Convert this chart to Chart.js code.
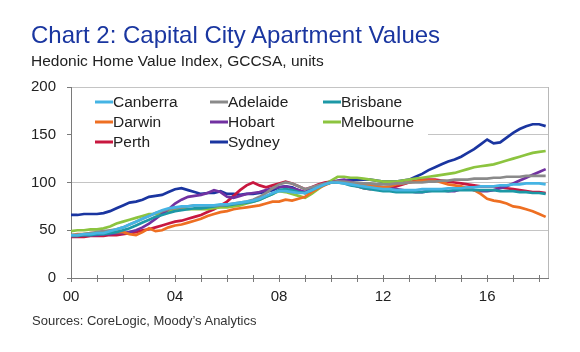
<!DOCTYPE html>
<html>
<head>
<meta charset="utf-8">
<script src="https://cdn.jsdelivr.net/npm/chart.js@4.4.1/dist/chart.umd.min.js"></script>
<style>
  html, body { margin: 0; padding: 0; background: #ffffff; }
  body { width: 580px; height: 352px; position: relative; overflow: hidden; font-family: "Liberation Sans", Arial, sans-serif; }
  #c { position: absolute; left: 0; top: 0; }
  .txt { position: absolute; white-space: nowrap; }
  #title { left: 31px; top: 22.7px; font-size: 24px; line-height: 24px; color: #1A36A0; }
  #subtitle { left: 31px; top: 53px; font-size: 15.5px; line-height: 15.5px; color: #222222; }
  #source { left: 32px; top: 314px; font-size: 13px; line-height: 13px; color: #333333; }
</style>
</head>
<body>
<canvas id="c" width="580" height="352"></canvas>
<div id="title" class="txt">Chart 2: Capital City Apartment Values</div>
<div id="subtitle" class="txt">Hedonic Home Value Index, GCCSA, units</div>
<div id="source" class="txt">Sources: CoreLogic, Moody’s Analytics</div>
<script>
// Quarterly observations, 2000 Q1 .. 2018 Q2
const startYear = 2000;
const yearTicks = [2000,2001,2002,2003,2004,2005,2006,2007,2008,2009,2010,2011,2012,2013,2014,2015,2016,2017,2018];
const yTicks = [0, 50, 100, 150, 200];

const canberra = [45,45,46,46, 47,47,49,51, 53,56,59,62, 65,68,71,73, 74,75,75,76, 76,76,76,77, 77,78,79,80, 81,83,86,89, 91,91,90,89, 89,92,95,98, 100,100,99,98, 97,96,95,94, 93,93,92,92, 92,92,93,93, 93,93,94,94, 94,95,95,96, 96,96,97,97, 98,98,99,99, 99,98];
const adelaide = [45,45,46,47, 48,49,50,51, 53,56,59,62, 65,68,70,72, 73,74,75,76, 76,76,76,76, 77,78,79,80, 82,85,89,94, 98,100,99,96, 93,95,97,99, 100,101,101,100, 100,99,99,98, 98,98,99,99, 100,100,100,101, 101,102,102,103, 103,103,104,104, 104,105,105,106, 106,106,107,107, 107,107];
const brisbane = [44,44,45,45, 46,46,47,48, 50,52,55,58, 61,64,66,68, 70,71,72,73, 73,74,75,76, 76,77,78,79, 80,82,85,88, 92,93,92,90, 89,92,95,98, 100,100,99,97, 96,94,93,92, 91,91,90,90, 90,90,90,91, 91,91,91,92, 92,92,92,92, 92,92,91,91, 91,90,90,89, 89,88];
const darwin = [45,46,46,47, 47,48,48,48, 48,46,45,48, 52,49,50,53, 55,56,58,60, 62,65,67,69, 70,72,73,74, 75,76,78,80, 80,82,81,83, 85,90,94,97, 100,101,100,99, 99,98,97,96, 95,96,98,99, 100,101,102,102, 102,100,98,97, 96,94,92,88, 83,81,80,78, 75,74,72,70, 67,64];
const hobart = [44,44,45,45, 45,46,46,47, 47,48,50,53, 57,62,67,72, 78,82,85,86, 87,89,92,90, 85,84,86,88, 89,90,92,94, 95,96,94,92, 90,93,96,99, 100,102,103,101, 99,98,97,96, 95,94,93,92, 91,90,90,91, 92,92,91,91, 93,94,92,91, 91,92,94,96, 99,102,105,108, 111,114];
const melbourne = [49,50,50,51, 51,52,54,57, 59,61,63,65, 67,67,68,70, 72,73,72,72, 72,72,73,74, 74,75,76,78, 80,82,85,88, 91,90,88,86, 84,88,93,98, 102,106,106,105, 105,104,103,102, 101,101,101,102, 103,104,105,106, 107,108,109,110, 112,114,116,117, 118,119,121,123, 125,127,129,131, 132,133];
const perth = [43,43,43,44, 44,44,45,45, 46,47,48,50, 51,53,55,57, 59,60,62,64, 66,69,72,76, 80,86,92,97, 100,97,95,97, 99,101,99,96, 93,95,98,100, 101,101,100,98, 96,94,93,94, 95,95,96,98, 100,102,103,103, 103,102,101,100, 99,98,97,96, 96,96,95,94, 93,92,91,90, 90,89];
const sydney = [66,66,67,67, 67,68,70,73, 76,79,80,82, 85,86,87,90, 93,94,92,90, 88,89,89,91, 88,88,87,88, 88,89,90,92, 95,96,95,92, 89,92,95,98, 100,101,102,103, 103,103,103,102, 101,101,101,102, 103,106,109,113, 116,119,122,124, 127,131,135,140, 145,141,142,147, 152,156,159,161, 161,159];

const seriesNames = ['Canberra','Adelaide','Brisbane','Darwin','Hobart','Melbourne','Perth','Sydney'];
const seriesValues = [canberra, adelaide, brisbane, darwin, hobart, melbourne, perth, sydney];
const seriesColors = ['#45B4E4','#8A8A8A','#1C98A6','#EE6F22','#7131A1','#8CC43F','#C8173F','#1A35A0'];

const datasets = seriesNames.map((name, k) => ({
  label: name,
  data: seriesValues[k].map((v, i) => ({ x: startYear + i / 4, y: v })),
  borderColor: seriesColors[k],
  backgroundColor: seriesColors[k],
  borderWidth: 2.7,
  pointRadius: 0,
  tension: 0,
  fill: false
}));

const legendLayout = { cols: [95, 210, 323], rows: [102, 122, 142], lineLen: 18 };

const frameAndLegend = {
  id: 'frameAndLegend',
  beforeDatasetsDraw(chart) {
    const { ctx, chartArea: a } = chart;
    const xs = chart.scales.x;
    ctx.save();
    // right border
    ctx.strokeStyle = '#b8b8b8';
    ctx.lineWidth = 1;
    ctx.beginPath();
    ctx.moveTo(a.right + 0.5, a.top);
    ctx.lineTo(a.right + 0.5, a.bottom);
    ctx.stroke();
    // inner part of the crossing x ticks
    ctx.strokeStyle = '#7a7a7a';
    ctx.beginPath();
    yearTicks.forEach(v => {
      const px = Math.round(xs.getPixelForValue(v)) + 0.5;
      ctx.moveTo(px, a.bottom);
      ctx.lineTo(px, a.bottom - 3);
    });
    ctx.stroke();
    // legend background
    ctx.fillStyle = '#ffffff';
    ctx.fillRect(a.left + 1, a.top + 2, 427 - a.left, 66);
    ctx.font = '15.5px "Liberation Sans", Arial, sans-serif';
    ctx.textBaseline = 'middle';
    ctx.fillStyle = '#222222';
    seriesNames.forEach((name, k) => {
      const col = k % 3, row = Math.floor(k / 3);
      const x = legendLayout.cols[col], y = legendLayout.rows[row];
      ctx.strokeStyle = seriesColors[k];
      ctx.lineWidth = 3;
      ctx.beginPath();
      ctx.moveTo(x, y);
      ctx.lineTo(x + legendLayout.lineLen, y);
      ctx.stroke();
      ctx.fillText(name, x + legendLayout.lineLen, y + 1);
    });
    ctx.restore();
  }
};

new Chart(document.getElementById('c'), {
  type: 'line',
  data: { datasets },
  plugins: [frameAndLegend],
  options: {
    responsive: false,
    animation: false,
    devicePixelRatio: 1,
    layout: { padding: { left: 0, top: 87, right: 32, bottom: 44 } },
    plugins: { legend: { display: false }, tooltip: { enabled: false }, title: { display: false } },
    scales: {
      x: {
        type: 'linear',
        min: 2000,
        max: 2018.34,
        afterFit(s) { s.height = 30; },
        afterBuildTicks(s) { s.ticks = yearTicks.map(v => ({ value: v })); },
        ticks: {
          autoSkip: false,
          maxRotation: 0,
          padding: 6,
          color: '#222222',
          font: { family: '"Liberation Sans", Arial, sans-serif', size: 15 },
          callback(v) { return (v % 4 === 0) ? String(v).slice(2) : ''; }
        },
        grid: { drawOnChartArea: false, drawTicks: true, tickLength: 4, color: '#7a7a7a' },
        border: { color: '#7a7a7a', width: 1 }
      },
      y: {
        min: 0,
        max: 200,
        afterFit(s) { s.width = 71; },
        afterBuildTicks(s) { s.ticks = yTicks.map(v => ({ value: v })); },
        ticks: {
          padding: 11,
          color: '#222222',
          font: { family: '"Liberation Sans", Arial, sans-serif', size: 15 }
        },
        grid: { color: '#c4c4c4', tickColor: '#7a7a7a', tickLength: 4, lineWidth: 1 },
        border: { color: '#7a7a7a', width: 1 }
      }
    }
  }
});
</script>
</body>
</html>
